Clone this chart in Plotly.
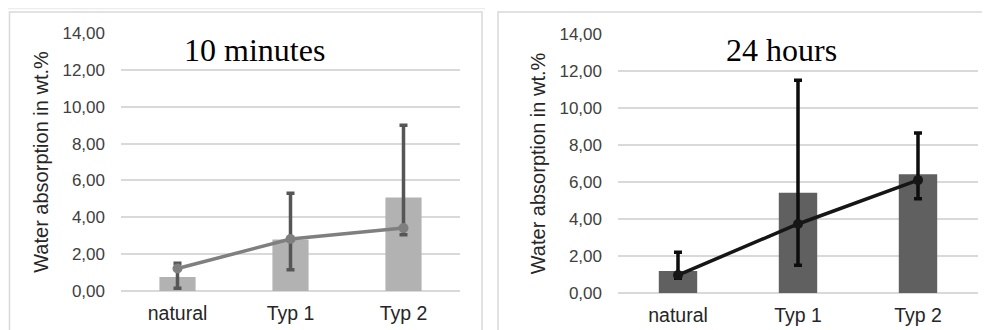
import plotly.graph_objects as go

categories = ["natural", "Typ 1", "Typ 2"]
y_ticks = [0, 2, 4, 6, 8, 10, 12, 14]
y_tick_labels = ["0,00", "2,00", "4,00", "6,00", "8,00", "10,00", "12,00", "14,00"]

# 10 minutes
bars_10min = [0.76, 2.80, 5.08]
line_10min = [1.22, 2.82, 3.42]
err_low_10min = [0.15, 1.15, 3.05]
err_high_10min = [1.50, 5.30, 9.00]

# 24 hours
bars_24h = [1.19, 5.42, 6.42]
line_24h = [0.97, 3.73, 6.10]
err_low_24h = [0.80, 1.50, 5.10]
err_high_24h = [2.20, 11.50, 8.65]

# page body has an 8px margin, so the figure starts at (8, 8) of the window
OFF = 8
W, H = 990 - OFF, 330 - OFF

def px(x):
    return (x - OFF) / W

def py(y):
    return 1 - (y - OFF) / H

fig = go.Figure()

def add_panel(xa, ya, bars, line, lo, hi, bar_col, line_col, err_col):
    fig.add_trace(go.Bar(
        x=categories, y=bars, xaxis=xa, yaxis=ya, marker_color=bar_col,
        marker_line_width=0, showlegend=False, hoverinfo="skip",
        error_y=dict(type="data", symmetric=False,
                     array=[h - b for h, b in zip(hi, bars)],
                     arrayminus=[b - l for b, l in zip(bars, lo)],
                     color=err_col, thickness=3.5, width=4),
    ))
    fig.add_trace(go.Scatter(
        x=categories, y=line, xaxis=xa, yaxis=ya, mode="lines+markers",
        line=dict(color=line_col, width=3.5),
        marker=dict(color=line_col, size=10), showlegend=False,
    ))

add_panel("x", "y", bars_10min, line_10min, err_low_10min, err_high_10min,
          "#b2b2b2", "#7f7f7f", "#565656")
add_panel("x2", "y2", bars_24h, line_24h, err_low_24h, err_high_24h,
          "#606060", "#161616", "#0d0d0d")

tick_font = dict(family="Liberation Sans, Arial, sans-serif", size=17, color="#404040")
cat_font = dict(family="Liberation Sans, Arial, sans-serif", size=19.5, color="#262626")
title_font = dict(family="Liberation Sans, Arial, sans-serif", size=20, color="#262626")

def yaxis_cfg(domain):
    return dict(domain=domain, range=[0, 14], tickvals=y_ticks, ticktext=y_tick_labels,
                showgrid=True, gridcolor="#d9d9d9", gridwidth=2, zeroline=True,
                zerolinecolor="#d9d9d9", zerolinewidth=2, showline=False,
                tickfont=tick_font, ticks="", ticklen=0, ticklabelstandoff=15,
                automargin=False,
                title=dict(text="Water absorption in wt.%", font=title_font, standoff=8))

def xaxis_cfg(domain, anchor):
    return dict(domain=domain, anchor=anchor, showgrid=False, zeroline=False,
                showline=False, ticks="", tickfont=cat_font, ticklabelstandoff=8,
                automargin=False)

fig.update_layout(
    width=W, height=H, margin=dict(l=0, r=0, t=0, b=0, autoexpand=False),
    paper_bgcolor="white", plot_bgcolor="white", bargap=0.68,
    xaxis=xaxis_cfg([px(121), px(460)], "y"),
    yaxis=yaxis_cfg([py(291), py(33)]),
    xaxis2=xaxis_cfg([px(618), px(978)], "y2"),
    yaxis2=yaxis_cfg([py(293), py(34)]),
)
fig.layout.yaxis2.anchor = "x2"
fig.layout.yaxis.anchor = "x"

# panel frames
frame = dict(color="#d9d9d9", width=1.5)
fig.add_shape(type="line", xref="paper", yref="paper", x0=0, x1=px(485),
              y0=py(8.5), y1=py(8.5), line=dict(color="#ececec", width=1.5))
fig.add_shape(type="rect", xref="paper", yref="paper", x0=px(9.5), x1=px(482),
              y0=-0.05, y1=py(12), line=frame)
fig.add_shape(type="rect", xref="paper", yref="paper", x0=px(498), x1=1.05,
              y0=-0.05, y1=py(12), line=frame)

serif = dict(family="Liberation Serif, Times New Roman, serif", size=32, color="black")
fig.add_annotation(text="10 minutes", xref="paper", yref="paper", x=px(254.5), y=py(50),
                   showarrow=False, font=serif, xanchor="center", yanchor="middle")
fig.add_annotation(text="24 hours", xref="paper", yref="paper", x=px(781), y=py(50),
                   showarrow=False, font=serif, xanchor="center", yanchor="middle")

fig.write_html("out.html")
